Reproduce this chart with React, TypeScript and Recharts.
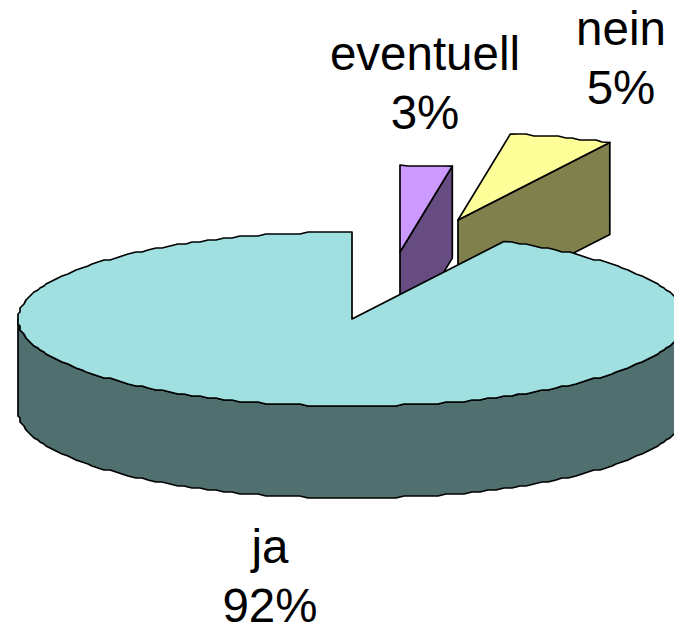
import { Pie, PieChart } from 'recharts'

const categories = ['eventuell', 'nein', 'ja']
const shares = [2.5, 5, 92.4]
const topColors = ['#CC99FF', '#FFFF99', '#A0E0E0']
const wallColors = ['#664C80', '#80804C', '#507070']

// explosion of each slice and where its label sits, in px
const explode = [
  { dx: 48, dy: -67 },
  { dx: 106, dy: -99 },
  { dx: 0, dy: 0 },
]
const labelPos = [
  { x: 425, y: 70 },
  { x: 621, y: 45 },
  { x: 270, y: 563 },
]

const data = categories.map((name, i) => ({ name, value: shares[i] }))

const TILT = 87 / 334
const DEPTH = 92
const LINE_GAP = 58.5

// the original is a stepped metafile outline, snapping reproduces the wobble
const snap = (v: number) => Math.round(v / 2) * 2

function arcPoints(cx: number, cy: number, r: number, from: number, to: number) {
  const pts: [number, number][] = []
  const steps = Math.max(1, Math.ceil((to - from) / 1.5))
  for (let i = 0; i <= steps; i++) {
    const t = ((from + ((to - from) * i) / steps) * Math.PI) / 180
    const x = cx + r * Math.sin(t)
    const y = cy - r * TILT * Math.cos(t)
    pts.push(i === 0 || i === steps ? [x, y] : [snap(x), snap(y)])
  }
  return pts
}

const toPath = (pts: [number, number][]) =>
  'M' + pts.map((p) => `${p[0].toFixed(1)},${p[1].toFixed(1)}`).join('L') + 'Z'

function Slice3D(props: any) {
  const { cx, cy, outerRadius, startAngle, endAngle, index } = props
  const ox = cx + explode[index].dx
  const oy = cy + explode[index].dy
  // recharts angles run counter-clockwise from 3 o'clock, here clockwise from 12
  const from = 90 - startAngle
  const to = 90 - endAngle
  const top = arcPoints(ox, oy, outerRadius, from, to)
  const down = (p: [number, number]): [number, number] => [p[0], p[1] + DEPTH]

  const walls: [number, number][][] = []
  const frontFrom = Math.max(from, 90)
  const frontTo = Math.min(to, 270)
  if (frontTo > frontFrom) {
    const edge = arcPoints(ox, oy, outerRadius, frontFrom, frontTo)
    walls.push([...edge, ...edge.map(down).reverse()])
  }
  if (to > 0 && to < 180) {
    const end = top[top.length - 1]
    walls.push([[ox, oy], end, down(end), [ox, oy + DEPTH]])
  }

  return (
    <g>
      {walls.map((w, i) => (
        <path key={i} d={toPath(w)} fill={wallColors[index]} stroke="#000" strokeWidth={1.7} strokeLinejoin="round" />
      ))}
      <path d={toPath([[ox, oy], ...top])} fill={topColors[index]} stroke="#000" strokeWidth={1.7} strokeLinejoin="round" />
    </g>
  )
}

function SliceLabel(props: any) {
  const { index, name, percent } = props
  const { x, y } = labelPos[index]
  return (
    <text x={x} y={y} textAnchor="middle" fontFamily="Liberation Sans" fontSize={47.5} fill="#000">
      <tspan x={x}>{name}</tspan>
      <tspan x={x} dy={LINE_GAP}>{Math.round(percent * 100)}%</tspan>
    </text>
  )
}

export default function App() {
  return (
    <div style={{ position: 'absolute', left: 0, top: 0, width: 674, height: 626, overflow: 'hidden' }}>
      <PieChart width={674} height={626} margin={{ top: 0, right: 0, bottom: 0, left: 0 }}>
        <Pie
          data={data}
          dataKey="value"
          nameKey="name"
          cx={352}
          cy={319}
          innerRadius={0}
          outerRadius={334}
          startAngle={90}
          endAngle={-270}
          stroke="none"
          shape={Slice3D}
          label={SliceLabel}
          labelLine={false}
          isAnimationActive={false}
        />
      </PieChart>
    </div>
  )
}
